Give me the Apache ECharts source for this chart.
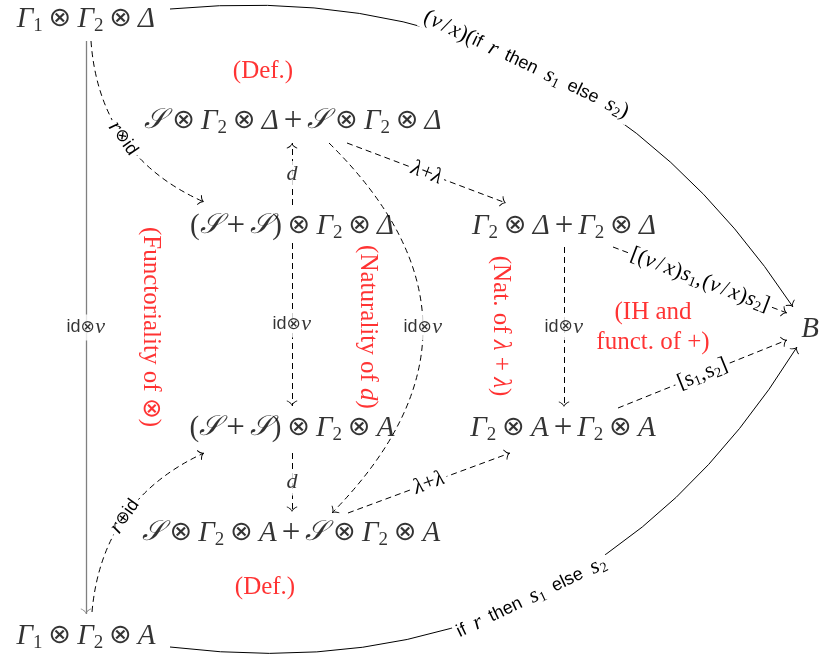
<!DOCTYPE html>
<html><head><meta charset="utf-8">
<script src="https://cdn.jsdelivr.net/npm/echarts/dist/echarts.min.js"></script>
<style>html,body{margin:0;padding:0;background:#fff}#c{width:820px;height:656px}</style>
</head><body><div id="c"></div>
<script>
// ---- diagram data (pixel-like data coordinates) ----
const nodeText = ['Γ_1⊗Γ_2⊗Δ', '𝒮⊗Γ_2⊗Δ+𝒮⊗Γ_2⊗Δ', '(𝒮+𝒮)⊗Γ_2⊗Δ', 'Γ_2⊗Δ+Γ_2⊗Δ', 'B',
                  '(𝒮+𝒮)⊗Γ_2⊗A', 'Γ_2⊗A+Γ_2⊗A', '𝒮⊗Γ_2⊗A+𝒮⊗Γ_2⊗A', 'Γ_1⊗Γ_2⊗A'];
const nodeX = [86, 293, 292, 564, 810, 292, 563, 291, 86];
const nodeY = [19, 121, 226, 226, 329, 428, 428, 533, 636];

const edgeFrom = [[170,9],[86,41],[91,41],[292,205],[347,143],[329,143],[292,243],[564,247],[613,247],[618,408],[292,453],[348,513],[92,612],[170,647]];
const edgeTo   = [[793,307],[86,614],[204,202],[292,143],[506,203],[332,513],[292,406],[564,407],[787,313],[787,340],[292,512],[510,453],[204,453],[797,347]];
const edgeBend = [0.3, 0, -0.3, 0, 0, 0.5, 0, 0, 0, 0, 0, 0, 0.29, -0.32];
const edgeKind = ['solid','gray','dashed','dashed','dashed','dashed','dashed','dashed','dashed','dashed','dashed','dashed','dashed','solid'];
const edgeLabel = ['(v/x)("if\u2002"r"\u2002then\u2002"s_1"\u2002else\u2002"s_2)', '"id"⊗v', 'r⊗"id"', 'd', 'λ+λ', '"id"⊗v', '"id"⊗v', '"id"⊗v',
                   '[(v/x)s_1,(v/x)s_2]', '[~s_1,~s_2]', 'd', 'λ+λ', 'r⊕"id"', '"if\u2002"r"\u2002then\u2002"s_1"\u2002else\u2002"s_2'];

const noteText = ['(Def.)', '(Functoriality of ⊗)', '(Naturality of $d$)', '(Nat. of $λ$ + $λ$)', '(IH and\nfunct. of +)', '(Def.)'];
const noteX = [263, 151, 368, 501, 653, 265];
const noteY = [71, 327, 327, 326, 327, 587];
const noteVertical = [false, true, true, true, false, false];

// ---- styling ----
const KIND_STYLE = {
  solid:  {color:'#000', width:1, type:'solid', opacity:1},
  gray:   {color:'#808080', width:1.3, type:'solid', opacity:1},
  dashed: {color:'#000', width:1, type:[6,4], opacity:1}
};
const ARROW = 'path://M5,0.6 M5,8 Q4,12 0,14.6 L0.6,15.4 Q4.4,13 5,10 Q5.6,13 9.4,15.4 L10,14.6 Q6,12 5,8 Z';
const SERIF = 'Liberation Serif';

function toRich(str, p) {
  let out = '';
  const ch = Array.from(str);
  const tok = (s, t) => '{' + p + s + '|' + t + '}';
  for (let i = 0; i < ch.length; i++) {
    const c = ch[i];
    if (c === '"') { let s = ''; i++; while (i < ch.length && ch[i] !== '"') { s += ch[i]; i++; } out += tok('sf', s); continue; }
    if (c === '_') { i++; out += tok('sub', ch[i]); continue; }
    if (c === '~') { i++; out += tok('up', ch[i]); continue; }
    if (c === '⊗' || c === '⊕') { out += tok('op', c); continue; }
    if (c === '+') { out += tok('pl', '+'); continue; }
    if (c === '𝒮') { out += tok('sc', c); continue; }
    if (c === '/') { out += tok('sl', c); continue; }
    if (c === ',') { out += tok('cm', c); continue; }
    if ('()[] 0123456789'.includes(c)) { out += tok('up', c); continue; }
    if ('vxs'.includes(c)) { out += tok('iw', c); continue; }
    out += tok('it', c);
  }
  return out;
}
function noteRich(str) {
  return str.split('\n').map(line => line.split('$').map((seg, k) => seg ? '{' + (k % 2 ? 'rit' : 'rup') + '|' + seg + '}' : '').join('')).join('\n');
}

const nodeRichStyle = {
  nit: {fontFamily: SERIF, fontStyle:'italic', fontSize:29, lineHeight:34, color:'#000'},
  niw: {fontFamily: SERIF, fontStyle:'italic', fontSize:29, lineHeight:34, color:'#000'},
  nup: {fontFamily: SERIF, fontSize:29, lineHeight:34, color:'#000'},
  nsl: {fontFamily: SERIF, fontSize:29, lineHeight:34, color:'#000'},
  ncm: {fontFamily: SERIF, fontSize:29, lineHeight:34, color:'#000'},
  nsc: {fontFamily: SERIF, fontStyle:'italic', fontSize:28, lineHeight:34, color:'#000'},
  nop: {fontFamily:'DejaVu Sans', fontSize:27, lineHeight:34, color:'#000', padding:[0,6]},
  npl: {fontFamily: SERIF, fontSize:33, lineHeight:34, color:'#000', padding:[0,5]},
  nsub:{fontFamily: SERIF, fontSize:19, lineHeight:22, verticalAlign:'bottom', color:'#000'}
};
const edgeRichStyle = {
  eit: {fontFamily: SERIF, fontStyle:'italic', fontSize:22, lineHeight:24, color:'#000'},
  eiw: {fontFamily: SERIF, fontStyle:'italic', fontSize:22, lineHeight:24, color:'#000', padding:[0,0.5]},
  eup: {fontFamily: SERIF, fontSize:22, lineHeight:24, color:'#000'},
  esl: {fontFamily: SERIF, fontSize:22, lineHeight:24, color:'#000', padding:[0,2]},
  ecm: {fontFamily: SERIF, fontSize:22, lineHeight:24, color:'#000', padding:[0,1,0,0]},
  esc: {fontFamily: SERIF, fontStyle:'italic', fontSize:22, lineHeight:24, color:'#000'},
  eop: {fontFamily:'DejaVu Sans', fontSize:17, lineHeight:24, color:'#000'},
  epl: {fontFamily: SERIF, fontSize:22, lineHeight:24, color:'#000'},
  esf: {fontFamily:'Liberation Sans', fontSize:18, lineHeight:24, color:'#000'},
  esub:{fontFamily: SERIF, fontSize:14, lineHeight:15, verticalAlign:'bottom', color:'#000'}
};
const noteRichStyle = {
  rup: {fontFamily: SERIF, fontSize:25, lineHeight:30, color:'#ff0000'},
  rit: {fontFamily: SERIF, fontStyle:'italic', fontSize:25, lineHeight:30, color:'#ff0000'}
};

// ---- derived geometry for edge labels ----
function isFlat(i) {
  const dx = edgeTo[i][0] - edgeFrom[i][0], dy = edgeTo[i][1] - edgeFrom[i][1];
  return Math.atan2(Math.abs(dy), Math.abs(dx)) > 70 * Math.PI / 180;
}
function curveMid(i) {
  const [x1, y1] = edgeFrom[i], [x2, y2] = edgeTo[i], c = edgeBend[i];
  const mx = (x1 + x2) / 2, my = (y1 + y2) / 2;
  const cx = mx - (y1 - y2) * c, cy = my - (x2 - x1) * c;
  return [(x1 + 2 * cx + x2) / 4, (y1 + 2 * cy + y2) / 4];
}

const edgeData = edgeFrom.map((f, i) => ({
  name: 'e' + i,
  coords: [f, edgeTo[i]],
  lineStyle: Object.assign({curveness: edgeBend[i]}, KIND_STYLE[edgeKind[i]]),
  label: {show: !isFlat(i)}
}));
const flatIdx = edgeLabel.map((_, i) => i).filter(isFlat);

const chart = echarts.init(document.getElementById('c'), null, {renderer: 'canvas'});
chart.setOption({
  animation: false,
  backgroundColor: '#fff',
  grid: {left: 0, right: 0, top: 0, bottom: 0},
  xAxis: {type: 'value', min: 0, max: 820, show: false},
  yAxis: {type: 'value', min: 0, max: 656, inverse: true, show: false},
  series: [
    {
      type: 'lines', coordinateSystem: 'cartesian2d', z: 2, silent: true,
      symbol: ['none', ARROW], symbolSize: [9, 11],
      lineStyle: {opacity: 1},
      data: edgeData,
      label: {
        position: 'insideMiddle', backgroundColor: '#fff', padding: [0, 3], opacity: 1, color: '#000', fontSize: 22,
        formatter: p => toRich(edgeLabel[p.dataIndex], 'e'), rich: edgeRichStyle
      }
    },
    {
      type: 'scatter', z: 4, silent: true, symbolSize: 1, itemStyle: {color: 'transparent'},
      data: flatIdx.map(i => ({value: curveMid(i), name: 'l' + i})),
      label: {
        show: true, position: 'inside', backgroundColor: '#fff', padding: [1, 0], color: '#000',
        formatter: p => toRich(edgeLabel[flatIdx[p.dataIndex]], 'e'), rich: edgeRichStyle
      }
    },
    {
      type: 'scatter', z: 3, silent: true, symbolSize: 1, itemStyle: {color: 'transparent'},
      data: nodeText.map((t, i) => ({value: [nodeX[i], nodeY[i]], name: t})),
      label: {
        show: true, position: 'inside', color: '#000',
        formatter: p => toRich(nodeText[p.dataIndex], 'n'), rich: nodeRichStyle
      }
    },
    {
      type: 'scatter', z: 3, silent: true, symbolSize: 1, itemStyle: {color: 'transparent'},
      data: noteText.map((t, i) => ({value: [noteX[i], noteY[i]], name: t, label: {rotate: noteVertical[i] ? -90 : 0}})),
      label: {
        show: true, position: 'inside', align: 'center', color: '#ff0000',
        formatter: p => noteRich(noteText[p.dataIndex]), rich: noteRichStyle
      }
    }
  ]
});
</script></body></html>
